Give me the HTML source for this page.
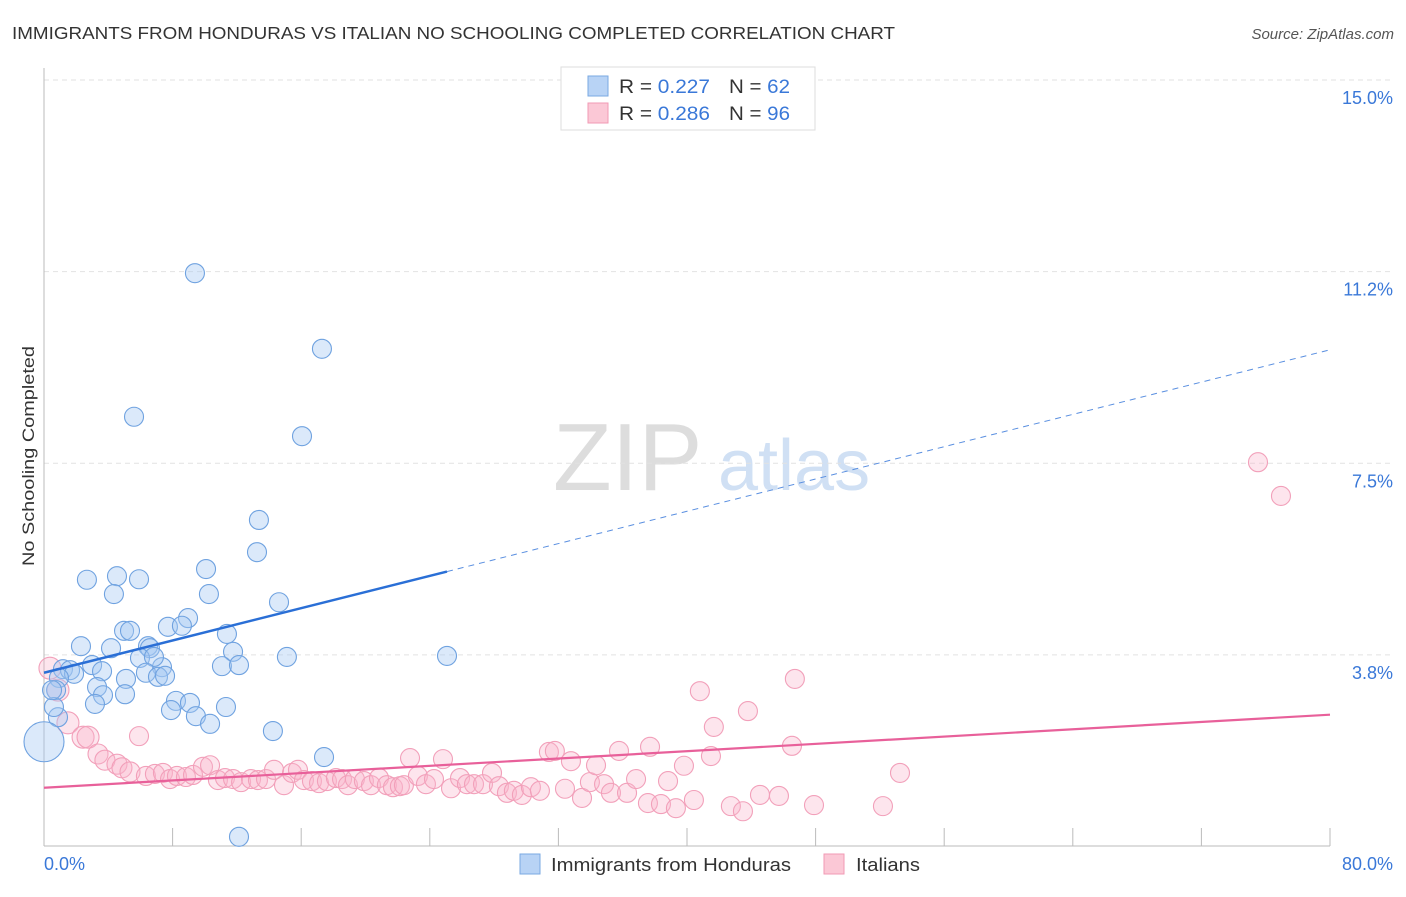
<!DOCTYPE html>
<html><head><meta charset="utf-8"><style>
body{margin:0;background:#fff;font-family:"Liberation Sans",sans-serif;}
svg text{font-family:"Liberation Sans",sans-serif;}
</style></head><body>
<svg id="chart" width="1406" height="892" xmlns="http://www.w3.org/2000/svg">
<text x="12" y="39" font-size="17.5" fill="#333" textLength="883" lengthAdjust="spacingAndGlyphs">IMMIGRANTS FROM HONDURAS VS ITALIAN NO SCHOOLING COMPLETED CORRELATION CHART</text>
<text x="1394" y="39" font-size="15" fill="#555" font-style="italic" text-anchor="end">Source: ZipAtlas.com</text>
<text x="34" y="456" font-size="17" fill="#333" text-anchor="middle" textLength="220" lengthAdjust="spacingAndGlyphs" transform="rotate(-90 34 456)">No Schooling Completed</text>
<g>
<text x="553" y="490" font-size="96" fill="#ddd" font-family="Liberation Serif">ZIP</text>
<text x="718" y="490" font-size="72" fill="#d0e0f4">atlas</text>
</g>
<g id="grid"></g><g id="axes"></g><g id="marks"></g><g id="lines"></g>
<g>
<rect x="561" y="67" width="254" height="63" fill="#fff" stroke="#ddd"/>
<rect x="588" y="76" width="20" height="20" fill="#b8d3f5" stroke="#7aa8e2"/>
<rect x="588" y="103" width="20" height="20" fill="#fbc8d6" stroke="#f19ab4"/>
<text x="619" y="93" font-size="19" fill="#333" textLength="91" lengthAdjust="spacingAndGlyphs">R = <tspan fill="#3a78d8">0.227</tspan></text>
<text x="729" y="93" font-size="19" fill="#333" textLength="61" lengthAdjust="spacingAndGlyphs">N = <tspan fill="#3a78d8">62</tspan></text>
<text x="619" y="120" font-size="19" fill="#333" textLength="91" lengthAdjust="spacingAndGlyphs">R = <tspan fill="#3a78d8">0.286</tspan></text>
<text x="729" y="120" font-size="19" fill="#333" textLength="61" lengthAdjust="spacingAndGlyphs">N = <tspan fill="#3a78d8">96</tspan></text>
</g>
<g>
<rect x="520" y="854" width="20" height="20" fill="#b8d3f5" stroke="#7aa8e2"/>
<text x="551" y="871" font-size="18" fill="#333" textLength="240" lengthAdjust="spacingAndGlyphs">Immigrants from Honduras</text>
<rect x="824" y="854" width="20" height="20" fill="#fbc8d6" stroke="#f19ab4"/>
<text x="856" y="871" font-size="18" fill="#333" textLength="64" lengthAdjust="spacingAndGlyphs">Italians</text>
</g>
</svg>
<script>
const yTicks=[3.75,7.5,11.25,15];
const yTickLabels=["3.8%","7.5%","11.2%","15.0%"];
const xTickCount=10;
const xLabels=["0.0%","80.0%"];
const blueX=[9.39,17.29,5.60,16.05,13.37,13.25,2.67,4.54,5.91,10.08,4.35,10.26,14.62,8.96,7.71,8.58,4.98,5.35,11.38,2.30,4.17,6.47,6.59,11.76,5.97,7.34,6.84,11.07,12.13,15.11,25.07,2.99,1.18,1.62,3.61,1.87,6.34,7.09,7.53,0.93,5.10,3.30,0.75,5.04,3.67,3.17,8.21,9.08,11.32,7.90,9.45,0.87,0.62,10.33,14.24,17.42,12.13,0.0,0.5];
const blueY=[11.22,9.74,8.41,8.03,6.39,5.76,5.22,5.29,5.23,5.43,4.94,4.94,4.78,4.47,4.30,4.32,4.22,4.22,4.16,3.92,3.88,3.92,3.88,3.81,3.69,3.51,3.71,3.53,3.55,3.71,3.73,3.55,3.47,3.45,3.43,3.38,3.40,3.32,3.34,3.30,3.28,3.12,3.06,2.98,2.96,2.79,2.85,2.81,2.73,2.67,2.55,2.53,2.73,2.40,2.26,1.75,0.19,2.05,3.06];
const pinkX=[0.37,0.87,1.49,2.43,2.74,3.36,3.79,4.54,4.85,5.35,5.91,6.34,6.90,7.40,7.84,8.27,8.83,9.27,9.89,10.33,10.82,11.26,11.76,12.26,12.88,13.31,13.81,14.31,14.93,15.43,15.80,16.17,16.67,17.11,17.60,18.16,18.54,18.91,19.34,19.90,20.34,20.84,21.33,21.71,22.14,22.39,22.77,23.26,23.76,24.26,24.82,25.32,25.88,26.31,26.75,27.31,27.87,28.30,28.80,29.23,29.73,30.29,30.85,31.41,31.78,32.41,32.78,33.47,33.96,34.34,34.84,35.27,35.77,36.27,36.83,37.57,37.70,38.38,38.82,39.31,39.81,40.43,40.80,41.49,41.67,42.73,43.48,43.79,44.54,45.72,46.53,46.71,47.90,52.19,53.25,75.52,76.95];
const pinkY=[3.49,3.06,2.42,2.14,2.14,1.81,1.69,1.61,1.54,1.46,2.16,1.38,1.42,1.44,1.32,1.38,1.36,1.40,1.56,1.59,1.30,1.34,1.32,1.26,1.32,1.30,1.32,1.50,1.20,1.44,1.50,1.30,1.28,1.24,1.28,1.34,1.32,1.20,1.32,1.28,1.20,1.34,1.20,1.16,1.18,1.20,1.73,1.38,1.22,1.32,1.71,1.14,1.34,1.22,1.22,1.22,1.44,1.18,1.05,1.09,1.01,1.16,1.09,1.85,1.87,1.13,1.67,0.95,1.26,1.59,1.22,1.05,1.87,1.05,1.32,0.85,1.95,0.83,1.28,0.75,1.58,0.91,3.04,1.77,2.34,0.79,0.69,2.65,1.01,0.99,1.97,3.28,0.81,0.79,1.44,7.52,6.86];
const blueTrend=[3.40,9.72];
const pinkTrend=[1.15,2.58];
const blueSolidEnd=25.07;

const NS="http://www.w3.org/2000/svg";
const X0=44,X1=1330,Y0=846.5,PPY=51.1;
const sx=v=>X0+v/80*(X1-X0);
const sy=v=>Y0-v*PPY;
function mk(tag,attrs,parent){const e=document.createElementNS(NS,tag);for(const k in attrs)e.setAttribute(k,attrs[k]);parent.appendChild(e);return e;}
const grid=document.getElementById('grid'),axes=document.getElementById('axes'),marks=document.getElementById('marks'),lines=document.getElementById('lines');
yTicks.forEach((t,i)=>{
 const g=mk('line',{x1:X0,x2:1394,y1:sy(t),y2:sy(t),stroke:'#e2e2e2','stroke-dasharray':'5,4'},grid);
 
 
 const l=mk('text',{x:1393,y:sy(t)+24,'font-size':18,fill:'#3a78d8','text-anchor':'end'},axes);
 l.textContent=yTickLabels[i];
 
 
});
const ya=mk('line',{x1:X0,x2:X0,y1:68,y2:846,stroke:'#bbb'},axes);


const xa=mk('line',{x1:X0,x2:X1,y1:846,y2:846,stroke:'#bbb'},axes);


for(let i=1;i<=xTickCount;i++){
 const tk=mk('line',{x1:sx(i*8),x2:sx(i*8),y1:828,y2:846,stroke:'#bbb'},axes);
 
 
}
const xl0=mk('text',{x:44,y:870,'font-size':18,fill:'#3a78d8'},axes);xl0.textContent=xLabels[0];


const xl1=mk('text',{x:1393,y:870,'font-size':18,fill:'#3a78d8','text-anchor':'end'},axes);xl1.textContent=xLabels[1];


pinkX.forEach((x,i)=>{
 const r=i<5?11:(i<10?10:9.5);
 const c=mk('circle',{cx:sx(x),cy:sy(pinkY[i]),r:r,fill:'rgba(248,180,202,0.35)',stroke:'#f2a0ba','stroke-width':1.1},marks);
 
 
});
blueX.forEach((x,i)=>{
 const r=(x===0)?20:9.5;
 const c=mk('circle',{cx:sx(x),cy:sy(blueY[i]),r:r,fill:'rgba(165,200,242,0.4)',stroke:'#6fa2e0','stroke-width':1.1},marks);
 
 
});
const bAt=v=>blueTrend[0]+(blueTrend[1]-blueTrend[0])*v/80;
const b1=mk('line',{x1:sx(0),y1:sy(bAt(0)),x2:sx(blueSolidEnd),y2:sy(bAt(blueSolidEnd)),stroke:'#2a6fd6','stroke-width':2.5},lines);


const b2=mk('line',{x1:sx(blueSolidEnd),y1:sy(bAt(blueSolidEnd)),x2:sx(80),y2:sy(bAt(80)),stroke:'#5a8fe0','stroke-width':1,'stroke-dasharray':'6,5'},lines);


const p1=mk('line',{x1:sx(0),y1:sy(pinkTrend[0]),x2:sx(80),y2:sy(pinkTrend[1]),stroke:'#e8609a','stroke-width':2.2},lines);


</script>
</body></html>
